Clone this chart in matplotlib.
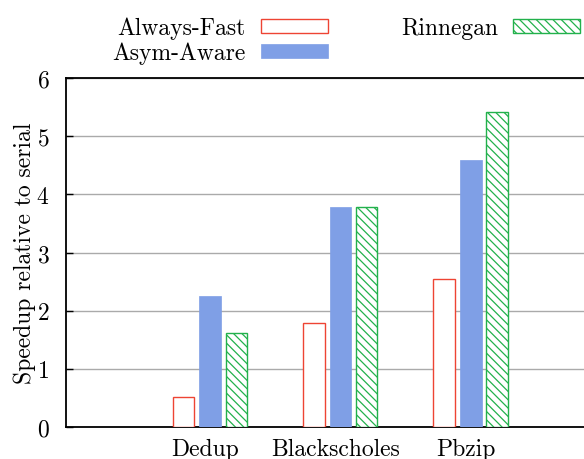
import numpy as np
import matplotlib.pyplot as plt

plt.rcParams['font.family'] = 'cmr10'
plt.rcParams['mathtext.fontset'] = 'cm'
plt.rcParams['axes.formatter.use_mathtext'] = True

# data
benchmarks = ['Dedup', 'Blackscholes', 'Pbzip']
always_fast = [0.52, 1.79, 2.55]
asym_aware = [2.25, 3.78, 4.59]
rinnegan = [1.61, 3.78, 5.42]

red = '#ee4433'
blue = '#7f9fe6'
green = '#22b14c'

fig = plt.figure(figsize=(5.84, 4.60), dpi=100)
ax = fig.add_axes([66 / 584, 32 / 460, 1.02 - 66 / 584, 349 / 460])

x = np.arange(len(benchmarks))
w = 0.165
ax.bar(x - 0.163, always_fast, w, facecolor='white', edgecolor=red, linewidth=1.0,
       label='Always-Fast', zorder=3)
ax.bar(x + 0.042, asym_aware, w, facecolor=blue, edgecolor=blue, linewidth=0.5,
       label='Asym-Aware', zorder=3)
plt.rcParams['hatch.color'] = green
plt.rcParams['hatch.linewidth'] = 0.9
ax.bar(x + 0.242, rinnegan, w, facecolor='white', edgecolor=green, linewidth=1.0,
       hatch='\\\\\\\\', label='Rinnegan', zorder=3)

ax.set_xlim(-1.065, 3.0)
ax.set_ylim(0, 6)
ax.set_xticks(x)
ax.set_xticklabels(benchmarks, fontsize=17)
ax.tick_params(axis='x', length=0, pad=8)
ax.set_yticks(range(7))
ax.tick_params(axis='y', direction='in', length=5, width=1.0, labelsize=17, pad=12)
ax.yaxis.grid(True, color='#aaaaaa', linewidth=1.0, zorder=0)
ax.set_axisbelow(True)
ax.set_ylabel('Speedup relative to serial', fontsize=17, labelpad=0)

for s in ['left', 'bottom', 'top']:
    ax.spines[s].set_linewidth(1.3)
ax.spines['right'].set_visible(False)

handles, labels = ax.get_legend_handles_labels()
leg = fig.legend(handles, labels, ncol=2, loc='upper left', bbox_to_anchor=(91 / 584, 1.008),
                 frameon=False, fontsize=17, markerfirst=False, handlelength=2.84,
                 handleheight=0.55, columnspacing=3.1, labelspacing=0.12, handletextpad=0.64)

fig.savefig('out.png', dpi=100)
